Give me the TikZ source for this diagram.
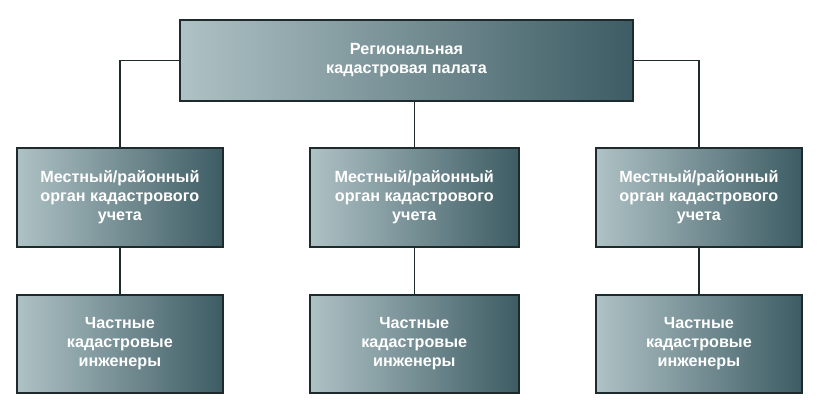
\documentclass[tikz,border=0pt]{standalone}
\usepackage{fontspec}
\setmainfont{Liberation Sans}
\definecolor{boxlight}{HTML}{AFC2C5}
\definecolor{boxdark}{HTML}{3D5C64}
\definecolor{edgecol}{HTML}{1E2A2C}
\begin{document}
\begin{tikzpicture}[x=0.025cm,y=-0.025cm,
  unit/.style={draw=edgecol,line width=1.2pt,left color=boxlight,right color=boxdark,
    text=white,font=\bfseries\fontsize{11.5}{13.5}\selectfont,align=center,
    inner sep=0pt,anchor=north west},
  link/.style={draw=edgecol,line width=1pt}]
\useasboundingbox (0,0) rectangle (820,418);

\node[unit,minimum width=11.33cm,minimum height=2.02cm] (top) at (179,19) {Региональная\\кадастровая палата};

\node[unit,minimum width=5.15cm,minimum height=2.47cm] (l1) at (16,147) {Местный/районный\\орган кадастрового\\учета};
\node[unit,minimum width=5.22cm,minimum height=2.47cm] (m1) at (309,147) {Местный/районный\\орган кадастрового\\учета};
\node[unit,minimum width=5.15cm,minimum height=2.47cm] (r1) at (595,147) {Местный/районный\\орган кадастрового\\учета};

\node[unit,minimum width=5.15cm,minimum height=2.45cm] (l2) at (16,294) {Частные\\кадастровые\\инженеры};
\node[unit,minimum width=5.22cm,minimum height=2.45cm] (m2) at (309,294) {Частные\\кадастровые\\инженеры};
\node[unit,minimum width=5.15cm,minimum height=2.45cm] (r2) at (595,294) {Частные\\кадастровые\\инженеры};

\draw[link] (top.west) -| (l1.north);
\draw[link] (top.east) -| (r1.north);
\draw[link] (top.south -| m1.north) -- (m1.north);
\draw[link] (l1) -- (l2);
\draw[link] (m1) -- (m2);
\draw[link] (r1) -- (r2);
\end{tikzpicture}
\end{document}
